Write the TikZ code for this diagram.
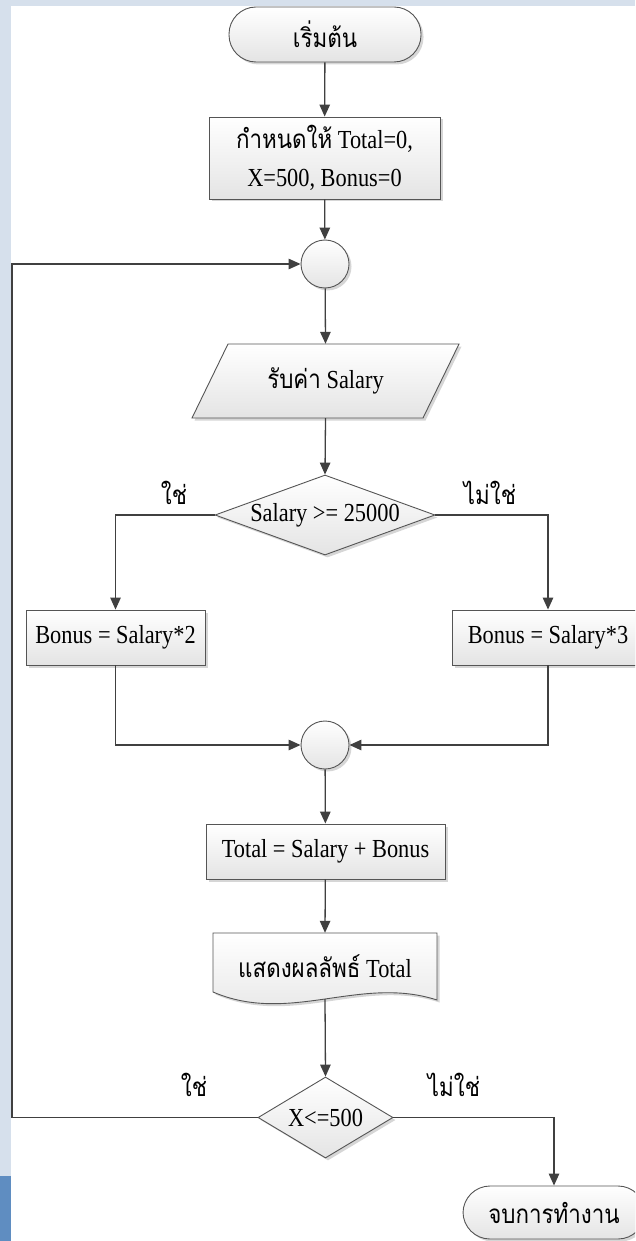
\documentclass[tikz,border=0pt]{standalone}
\usepackage{fontspec}
\setmainfont[FakeStretch=0.86]{Liberation Serif}
\newfontfamily\thaifont[Script=Thai,FakeStretch=0.86]{Loma}
\usetikzlibrary{arrows.meta,shapes.geometric,shadows,calc}

\definecolor{paneblue}{HTML}{D6E0EC}
\definecolor{barblue}{HTML}{5F8DC1}
\definecolor{linecol}{HTML}{404040}
\definecolor{edgecol}{HTML}{555555}
\definecolor{fillbot}{HTML}{E4E4E4}

\newcommand{\thtxt}[1]{{\thaifont #1}}

\tikzset{
  every node/.style={font=\fontsize{26}{38}\selectfont, text=black},
  softshadow/.style={drop shadow={shadow xshift=2.5pt, shadow yshift=-2.5pt, fill=black, opacity=0.16}},
  flowshape/.style={draw=edgecol, line width=0.9pt, top color=white, bottom color=fillbot, softshadow},
  terminal/.style={flowshape, rectangle, rounded corners=27pt, minimum width=192pt, minimum height=55pt, inner sep=0pt},
  procbox/.style={flowshape, rectangle, minimum height=55pt, inner sep=0pt},
  junction/.style={flowshape, circle, minimum size=48pt, inner sep=0pt},
  decision/.style={flowshape, diamond, inner sep=0pt},
  plaintext/.style={inner sep=0pt},
  conn/.style={draw=linecol, line width=1.3pt, -{Triangle[length=12pt,width=10.5pt]}},
  link/.style={draw=linecol, line width=1.3pt},
}

\begin{document}
\begin{tikzpicture}[x=1pt,y=-1pt]
  \useasboundingbox (0,0) rectangle (635,1241);
  \clip (0,0) rectangle (635,1241);

  % window frame around the drawing area
  \fill[paneblue] (0,0) rectangle (635,1241);
  \fill[barblue] (0,1176) rectangle (11,1241);
  \fill[white] (11,6) rectangle (635,1241);

  % start and initialisation
  \node[terminal] (start) at (325,34.5) {\thtxt{เริ่มต้น}};
  \node[procbox, minimum width=231pt, minimum height=82pt, align=center] (init) at (324.5,158)
    {\thtxt{กำหนดให้} Total=0,\\X=500, Bonus=0};
  \node[junction] (j1) at (325,264) {};

  % input parallelogram
  \coordinate (ioc) at (325.5,381);
  \draw[flowshape] ($(ioc)+(-97.5,-37)$) -- ($(ioc)+(133.5,-37)$)
    -- ($(ioc)+(97.5,37)$) -- ($(ioc)+(-133.5,37)$) -- cycle;
  \node[plaintext, minimum width=267pt, minimum height=74pt] (io) at (ioc) {\thtxt{รับค่า} Salary};

  % first decision
  \node[decision, minimum width=220pt, minimum height=80pt] (d1) at (325,515) {};
  \node[plaintext] (d1t) at (d1) {Salary >= 25000};

  \node[procbox, minimum width=179pt] (b2) at (115.5,637.5) {Bonus = Salary*2};
  \node[procbox, minimum width=192pt] (b3) at (548,637.5) {Bonus = Salary*3};

  \node[junction] (j2) at (325,745) {};
  \node[procbox, minimum width=239pt] (sum) at (325.5,851.5) {Total = Salary + Bonus};

  % output document
  \draw[flowshape] (213,933) -- (437,933) -- (437,1000)
    .. controls (360,975) and (290,1025) .. (213,992) -- cycle;
  \node[plaintext, minimum width=224pt, minimum height=66pt] (doc) at (325,966) {\thtxt{แสดงผลลัพธ์} Total};

  % loop decision and end
  \node[decision, minimum width=135pt, minimum height=81pt] (d2) at (325.5,1117.5) {};
  \node[plaintext] (d2t) at (d2) {X<=500};
  \node[terminal, minimum width=182pt, minimum height=53pt] (stop) at (554,1212.5) {\thtxt{จบการทำงาน}};

  % branch labels
  \node[plaintext] (yes1) at (174,493) {\thtxt{ใช่}};
  \node[plaintext] (no1) at (490,493) {\thtxt{ไม่ใช่}};
  \node[plaintext] (yes2) at (194,1085) {\thtxt{ใช่}};
  \node[plaintext] (no2) at (454,1085) {\thtxt{ไม่ใช่}};

  % connectors
  \coordinate (loopx) at (12,0);
  \draw[conn] (start) -- (init);
  \draw[conn] (init) -- (j1);
  \draw[conn] (j1) -- (io.north);
  \draw[conn] (io.south) -- (d1.north);
  \draw[conn] (d1.west) -| (b2.north);
  \draw[conn] (d1.east) -| (b3.north);
  \draw[conn] (b2.south) |- (j2.west);
  \draw[conn] (b3.south) |- (j2.east);
  \draw[conn] (j2) -- (sum);
  \draw[conn] (sum) -- (doc.north);
  \draw[conn] (doc.south) -- (d2.north);
  \draw[conn] (d2.west) -- (d2.west -| loopx) |- (j1.west);
  \draw[conn] (d2.east) -| (stop.north);
\end{tikzpicture}
\end{document}
